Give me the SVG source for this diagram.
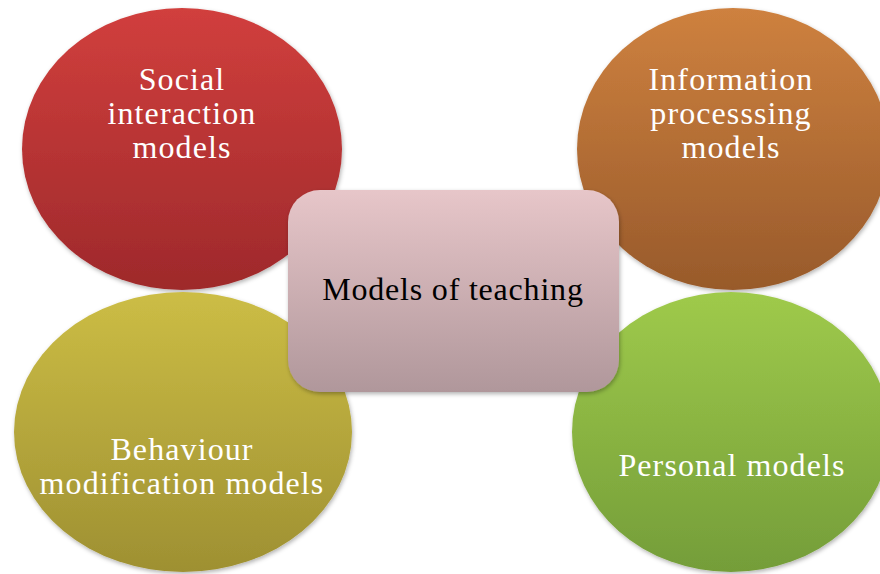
<svg xmlns="http://www.w3.org/2000/svg" width="880" height="574" viewBox="0 0 880 574">
<defs>
<linearGradient id="gRed" x1="0" y1="0" x2="0" y2="1"><stop offset="0" stop-color="#d13f3d"/><stop offset="1" stop-color="#9e292b"/></linearGradient>
<linearGradient id="gOrange" x1="0" y1="0" x2="0" y2="1"><stop offset="0" stop-color="#ce813f"/><stop offset="1" stop-color="#985a2b"/></linearGradient>
<linearGradient id="gYellow" x1="0" y1="0" x2="0" y2="1"><stop offset="0" stop-color="#ccbd45"/><stop offset="1" stop-color="#9e9032"/></linearGradient>
<linearGradient id="gGreen" x1="0" y1="0" x2="0" y2="1"><stop offset="0" stop-color="#9fca4b"/><stop offset="1" stop-color="#749d39"/></linearGradient>
<linearGradient id="gPink" x1="0" y1="0" x2="0" y2="1"><stop offset="0" stop-color="#e7c6c9"/><stop offset="1" stop-color="#b0979b"/></linearGradient>
<filter id="sh" x="-10%" y="-10%" width="125%" height="125%"><feDropShadow dx="1" dy="2" stdDeviation="2" flood-color="#000" flood-opacity="0.3"/></filter>
</defs>
<style>
.lbl{font-family:"Liberation Serif","Times New Roman",serif;font-size:32px;fill:#ffffff;text-anchor:middle;letter-spacing:1.1px}
.ctr{font-family:"Liberation Serif","Times New Roman",serif;font-size:32px;fill:#000000;text-anchor:middle;letter-spacing:0.8px}
</style>
<g id="connectors"></g>
<g id="social">
<ellipse cx="182" cy="149" rx="160" ry="141" fill="url(#gRed)" filter="url(#sh)"/>
<text class="lbl" x="182" y="90">Social</text>
<text class="lbl" x="182" y="124">interaction</text>
<text class="lbl" x="182" y="158">models</text>
</g>
<g id="information">
<ellipse cx="733" cy="149" rx="156" ry="141" fill="url(#gOrange)" filter="url(#sh)"/>
<text class="lbl" x="731" y="90">Information</text>
<text class="lbl" x="731" y="124">processsing</text>
<text class="lbl" x="731" y="158">models</text>
</g>
<g id="behaviour">
<ellipse cx="183" cy="432" rx="169" ry="140" fill="url(#gYellow)" filter="url(#sh)"/>
<text class="lbl" x="182" y="460">Behaviour</text>
<text class="lbl" x="182" y="494">modification models</text>
</g>
<g id="personal">
<ellipse cx="731" cy="432" rx="159" ry="140" fill="url(#gGreen)" filter="url(#sh)"/>
<text class="lbl" x="732" y="476">Personal models</text>
</g>
<g id="center">
<rect x="288" y="190" width="331" height="202" rx="32" ry="32" fill="url(#gPink)" filter="url(#sh)"/>
<text class="ctr" x="453" y="300">Models of teaching</text>
</g>
</svg>
